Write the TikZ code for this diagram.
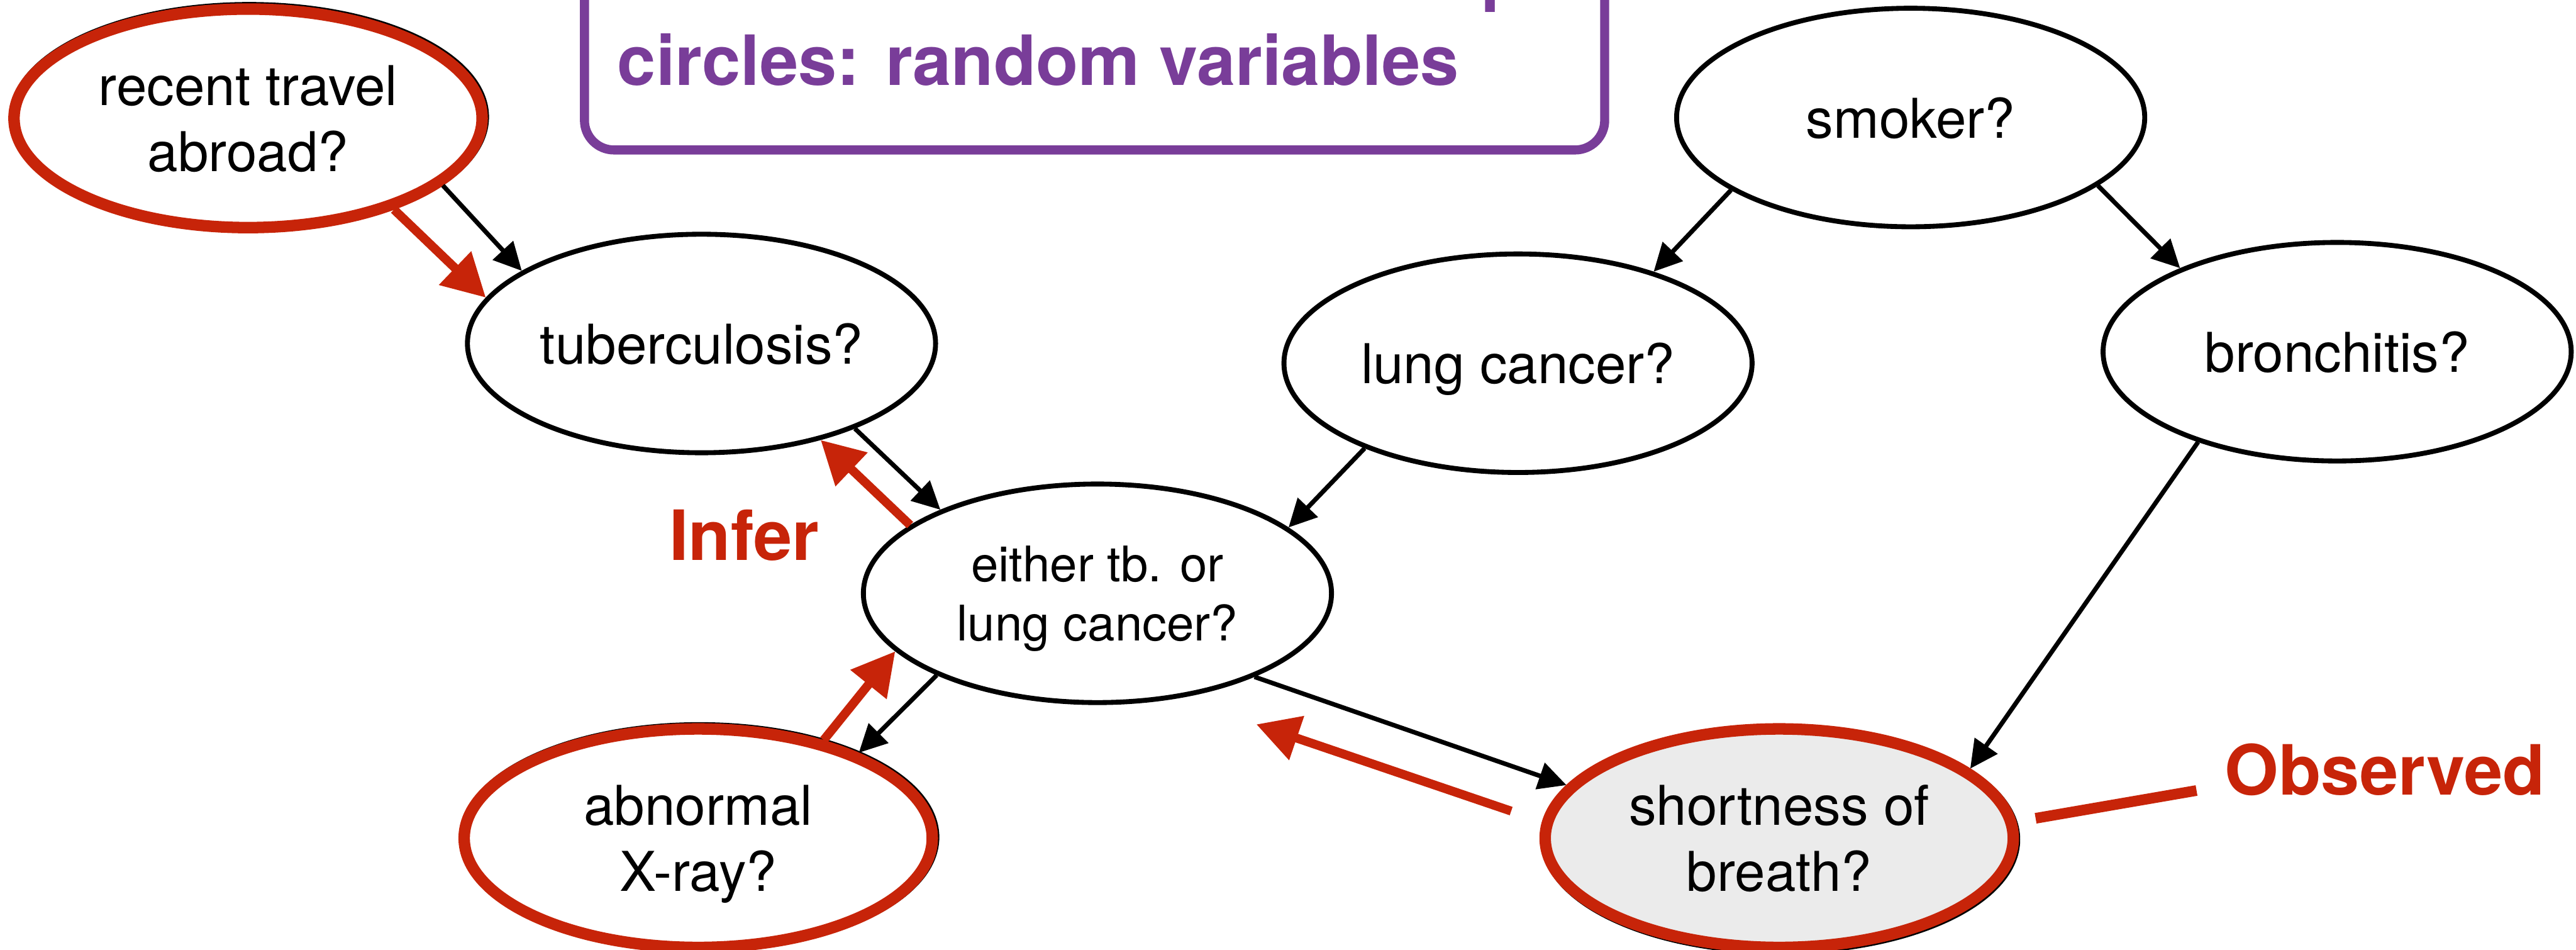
\documentclass[tikz,border=0pt]{standalone}
\usepackage{fontspec}
\setmainfont{TeX Gyre Heros}
\usetikzlibrary{shapes.geometric,arrows.meta}

\definecolor{obsred}{RGB}{199,36,9}
\definecolor{legendpurple}{RGB}{121,61,153}
\definecolor{evidencegrey}{RGB}{235,235,235}

\tikzset{
  var/.style={ellipse, draw=black, line width=0.06cm, fill=white,
    minimum width=5.7cm, minimum height=2.66cm, inner sep=0pt,
    align=center, font=\fontsize{19}{22.8}\selectfont, text depth=0pt},
  evidence/.style={var, draw=obsred, line width=0.14cm},
  shadowring/.style={ellipse, draw=black, line width=0.14cm,
    minimum width=5.7cm, minimum height=2.66cm, inner sep=0pt},
  causal/.style={line width=0.055cm, -{Triangle[length=0.34cm,width=0.33cm]}},
  flow/.style={draw=obsred, line width=0.108cm, -{Triangle[length=0.52cm,width=0.54cm]}},
  tag/.style={font=\fontsize{24}{28}\selectfont\bfseries, text=obsred,
    inner sep=0pt, anchor=base west},
  legendtext/.style={font=\fontsize{24}{28}\selectfont\bfseries, text=legendpurple,
    inner sep=0pt, anchor=base west},
}

\begin{document}
\begin{tikzpicture}[x=0.02cm, y=-0.02cm]
\useasboundingbox (0,0) rectangle (1568,578);
\clip (0,0) rectangle (1568,578);

% legend box (its upper part runs off the top edge)
\draw[legendpurple, line width=0.11cm, rounded corners=0.36cm]
  (355.75,-60) rectangle (976.75,91.25);
\node[legendtext] (legendprev) at (901.4,-1.8) {p};
\node[legendtext] (legend) at (375.5,51.7) {circles: random variables};

% dark rims under the red (observed) variables
\node[shadowring] (recring) at (151.7,71.2) {};
\node[shadowring] (xrayring) at (425.8,509.4) {};
\node[shadowring] (sobring) at (1083.7,510.8) {};

% random variables
\node[evidence] (rec) at (151,72) {recent travel\\abroad?};
\node[var] (tub) at (427,209) {tuberculosis?};
\node[var] (smk) at (1163,71.5) {smoker?};
\node[var] (lung) at (924,221) {lung cancer?};
\node[var] (bron) at (1422.6,214) {bronchitis?};
\node[var, font=\fontsize{17}{20.4}\selectfont] (either) at (668,361) {either tb. or\\lung cancer?};
\node[evidence] (xray) at (425,510) {abnormal\\X-ray?};
\node[evidence, fill=evidencegrey] (sob) at (1083,510) {shortness of\\breath?};

% causal links
\draw[causal] (rec.-19.7) -- (tub.158.7);
\draw[causal] (tub.-29.2) -- (either.152.9);
\draw[causal] (lung.209.1) -- (either.19.4);
\draw[causal] (smk.-158.3) -- (lung.34.5);
\draw[causal] (smk.-20) -- (bron.152.7);
\draw[causal] (either.-153.7) -- (xray.28);
\draw[causal] (either.-28.2) -- (sob.166.2);
\draw[causal] (bron.-147.3) -- (sob.20.2);

% flow of evidence
\draw[flow] (rec.-32.2) -- (tub.168.8);
\draw[flow] (either.160.8) -- (tub.-39);
\draw[flow] (xray.38.9) -- (either.196.9);
\draw[flow, shorten <=0.396cm, shorten >=0.99cm] (sob.176.6) -- (either.-52.4);

% labels
\node[tag] (infer) at (407,341) {Infer};
\node[tag] (obs) at (1354,483.5) {Observed};
\draw[obsred, line width=0.13cm, shorten <=0.236cm]
  (sob.4.5) -- ([xshift=-0.34cm, yshift=0.05cm]obs.base west);
\end{tikzpicture}
\end{document}
